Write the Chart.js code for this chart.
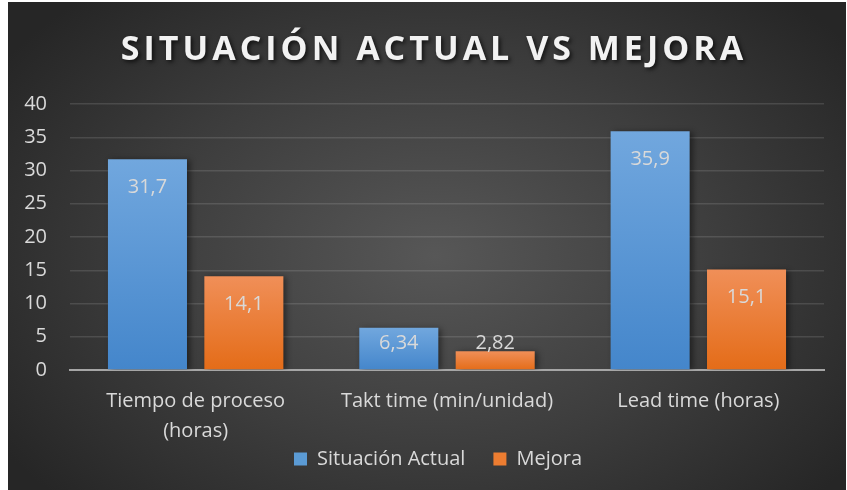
<!DOCTYPE html>
<html lang="es">
<head>
<meta charset="utf-8">
<title>Situación actual vs mejora</title>
<script src="https://cdn.jsdelivr.net/npm/chart.js@4.4.1/dist/chart.umd.min.js"></script>
<style>
  html, body { margin: 0; padding: 0; background: #fff; overflow: hidden; }
  #panel {
    position: absolute; left: 8px; top: 2px; width: 838px; height: 488px;
    background: radial-gradient(ellipse 62% 72% at 51% 52%, #575757 0%, #3d3d3d 55%, #262626 100%);
  }
  #wrap { position: absolute; left: 0; top: 0; width: 847px; height: 490px; }
</style>
</head>
<body>
<div id="panel"></div>
<div id="wrap"><canvas id="grafico" width="847" height="490"></canvas></div>
<script>
// =========================
// DATOS
// =========================
const titulo          = "SITUACIÓN ACTUAL VS MEJORA";
const categorias      = [["Tiempo de proceso", "(horas)"], "Takt time (min/unidad)", "Lead time (horas)"];
const situacionActual = [31.7, 6.34, 35.9];
const mejora          = [14.1, 2.82, 15.1];
const marcasY         = [0, 5, 10, 15, 20, 25, 30, 35, 40];

const FUENTE     = '"Open Sans", "DejaVu Sans", sans-serif';
const TEXTO_GRIS = "#d9d9d9";

const formatear = v => String(v).replace(".", ",");

// degradado vertical de cada barra (claro arriba, oscuro abajo)
function degradado(arriba, abajo) {
  return ctx => {
    const chart = ctx.chart;
    if (!chart.chartArea || ctx.raw === undefined) return abajo;
    const y = chart.scales.y;
    const top    = y.getPixelForValue(ctx.raw);
    const bottom = y.getPixelForValue(0);
    if (bottom - top < 1) return abajo;
    const g = chart.ctx.createLinearGradient(0, top, 0, bottom);
    g.addColorStop(0, arriba);
    g.addColorStop(1, abajo);
    return g;
  };
}

// =========================
// TITULO (con sombra y espaciado)
// =========================
const tituloSombra = {
  id: "tituloSombra",
  afterDraw(chart) {
    const c = chart.ctx;
    c.save();
    c.font = `bold 34px ${FUENTE}`;
    c.letterSpacing = "4px";
    c.fillStyle = "#f2f2f2";
    c.textAlign = "center";
    c.textBaseline = "middle";
    c.shadowColor = "rgba(0,0,0,0.7)";
    c.shadowBlur = 4;
    c.shadowOffsetX = 2;
    c.shadowOffsetY = 2;
    c.fillText(titulo, 434, 50);
    c.restore();
  }
};

// la leyenda va centrada bajo el area de barras y pegada a las etiquetas del eje
const leyendaCentrada = {
  id: "leyendaCentrada",
  afterLayout(chart) {
    const l = chart.legend;
    if (!l) return;
    const alto = l.bottom - l.top;
    l.left  += 22;
    l.right += 22;
    l.top    = chart.chartArea.bottom + 51;
    l.bottom = l.top + alto;
  }
};

// =========================
// ETIQUETAS DE VALOR
// =========================
const etiquetasValor = {
  id: "etiquetasValor",
  beforeDatasetsDraw(chart) {
    const c = chart.ctx;
    c.save();
    c.shadowColor = "rgba(0,0,0,0.45)";
    c.shadowBlur = 6;
    c.shadowOffsetX = 3;
    c.shadowOffsetY = 1;
  },
  afterDatasetsDraw(chart) {
    const c = chart.ctx;
    c.restore();
    c.save();
    c.font = `20px ${FUENTE}`;
    c.fillStyle = TEXTO_GRIS;
    c.textAlign = "center";
    c.textBaseline = "middle";
    chart.data.datasets.forEach((ds, i) => {
      chart.getDatasetMeta(i).data.forEach((barra, j) => {
        const y = Math.min(barra.y + 28, barra.base - 26);
        c.fillText(formatear(ds.data[j]), barra.x, y);
      });
    });
    c.restore();
  }
};

const coloresLeyenda = ["#5b9bd5", "#ed7d31"];

new Chart(document.getElementById("grafico"), {
  type: "bar",
  data: {
    labels: categorias,
    datasets: [
      {
        label: "Situación Actual",
        data: situacionActual,
        backgroundColor: degradado("#71a7de", "#4486cb"),
        categoryPercentage: 0.767,
        barPercentage: 0.82
      },
      {
        label: "Mejora",
        data: mejora,
        backgroundColor: degradado("#f08f58", "#e46c18"),
        categoryPercentage: 0.767,
        barPercentage: 0.82
      }
    ]
  },
  options: {
    responsive: false,
    animation: false,
    devicePixelRatio: 1,
    layout: { padding: { left: 8, right: 23, top: 104, bottom: -18 } },
    plugins: {
      tooltip: { enabled: false },
      title: { display: false },
      legend: {
        position: "bottom",
        labels: {
          color: TEXTO_GRIS,
          font: { family: FUENTE, size: 20 },
          boxWidth: 13,
          boxHeight: 13,
          padding: 28,
          generateLabels: chart =>
            Chart.defaults.plugins.legend.labels.generateLabels(chart).map((it, i) => ({
              ...it, fillStyle: coloresLeyenda[i], strokeStyle: coloresLeyenda[i], lineWidth: 0
            }))
        }
      }
    },
    scales: {
      x: {
        z: 1,
        grid: { display: false },
        border: { display: true, color: "#a6a6a6", width: 2 },
        ticks: {
          color: TEXTO_GRIS,
          font: { family: FUENTE, size: 20, lineHeight: 1.5 },
          padding: 8,
          maxRotation: 0,
          autoSkip: false
        },
        afterFit: s => { s.height = 80; }
      },
      y: {
        min: marcasY[0],
        max: marcasY[marcasY.length - 1],
        border: { display: false },
        grid: {
          drawTicks: false,
          color: c => c.tick.value === 0 ? "transparent" : "rgba(255,255,255,0.12)",
          lineWidth: 1.5
        },
        ticks: {
          stepSize: marcasY[1] - marcasY[0],
          color: TEXTO_GRIS,
          font: { family: FUENTE, size: 20 },
          padding: 23
        },
        afterFit: s => { s.width = 62; }
      }
    }
  },
  plugins: [etiquetasValor, tituloSombra, leyendaCentrada]
});
</script>
</body>
</html>
